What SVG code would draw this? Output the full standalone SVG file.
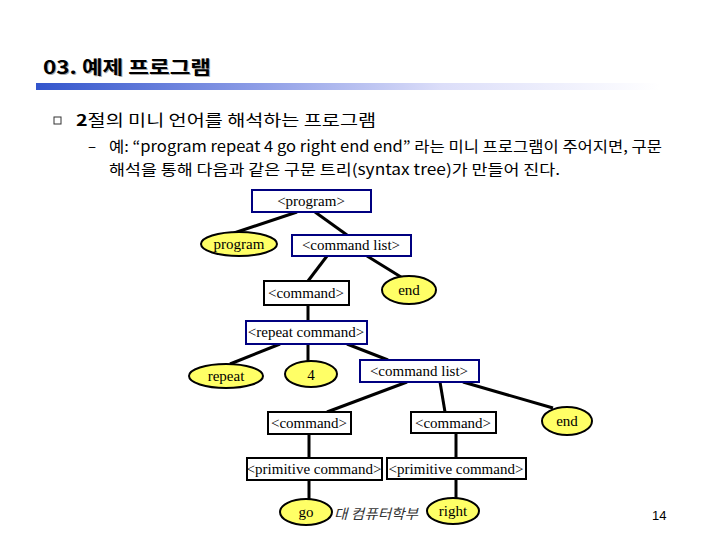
<svg xmlns="http://www.w3.org/2000/svg" width="720" height="540" viewBox="0 0 720 540">
<defs>
<linearGradient id="bar" x1="0" y1="0" x2="1" y2="0">
<stop offset="0" stop-color="#3355cc"/>
<stop offset="0.35" stop-color="#8c9ce6"/>
<stop offset="0.65" stop-color="#dcdef9"/>
<stop offset="1" stop-color="#ffffff"/>
</linearGradient>
<style>
.nt{fill:#fff;stroke:#000080;stroke-width:2}
.nb{fill:#fff;stroke:#000;stroke-width:2}
.tm{fill:#ffff66;stroke:#000;stroke-width:2}
.tx{font-family:"Liberation Serif","Times New Roman",serif;font-size:15px;fill:#000;text-anchor:middle}
.ko{font-family:"Noto Sans CJK KR","DejaVu Sans",sans-serif;fill:#000}
.edge{stroke:#000;stroke-width:3;fill:none}
</style>
</defs>
<rect width="720" height="540" fill="#fff"/>
<g id="header">
<text x="44" y="75" class="ko" font-size="18" font-weight="bold" fill="#999" textLength="168" lengthAdjust="spacingAndGlyphs" style="fill:#aaa">03. 예제 프로그램</text>
<text x="43" y="74" class="ko" font-size="18" font-weight="bold" textLength="168" lengthAdjust="spacingAndGlyphs">03. 예제 프로그램</text>
<rect x="36" y="83" width="624" height="7" fill="url(#bar)"/>
</g>
<g id="body">
<rect x="54" y="117" width="7" height="7" fill="none" stroke="#333" stroke-width="1"/>
<text x="76" y="126" class="ko" font-size="16" textLength="300" lengthAdjust="spacingAndGlyphs"><tspan font-weight="bold">2</tspan>절의 미니 언어를 해석하는 프로그램</text>
<text x="88" y="152" class="ko" font-size="15">–</text>
<text x="109" y="152" class="ko" font-size="15" textLength="553" lengthAdjust="spacingAndGlyphs">예: “program repeat 4 go right end end” 라는 미니 프로그램이 주어지면, 구문</text>
<text x="109" y="175" class="ko" font-size="15" textLength="451" lengthAdjust="spacingAndGlyphs">해석을 통해 다음과 같은 구문 트리(syntax tree)가 만들어 진다.</text>
</g>
<g id="connectors">
<line class="edge" x1="297" y1="212" x2="234" y2="233"/>
<line class="edge" x1="315" y1="212" x2="347" y2="235"/>
<line class="edge" x1="327" y1="256" x2="308" y2="281"/>
<line class="edge" x1="367" y1="256" x2="401" y2="277"/>
<line class="edge" x1="308" y1="305" x2="308" y2="321"/>
<line class="edge" x1="280" y1="344" x2="230" y2="364"/>
<line class="edge" x1="308" y1="344" x2="308" y2="361"/>
<line class="edge" x1="347" y1="344" x2="388" y2="360"/>
<line class="edge" x1="407" y1="382" x2="327" y2="412"/>
<line class="edge" x1="440" y1="382" x2="445" y2="412"/>
<line class="edge" x1="463" y1="382" x2="553" y2="408"/>
<line class="edge" x1="309" y1="434" x2="309" y2="458"/>
<line class="edge" x1="456" y1="433" x2="456" y2="458"/>
<line class="edge" x1="309" y1="480" x2="309" y2="499"/>
<line class="edge" x1="456" y1="479" x2="456" y2="498"/>
</g>
<g id="n-program-nt"><rect class="nt" x="252" y="190" width="119" height="22"/><text class="tx" x="311" y="206">&lt;program&gt;</text></g>
<g id="n-program-t"><ellipse class="tm" cx="239" cy="244" rx="38" ry="12"/><text class="tx" x="239" y="249">program</text></g>
<g id="n-cmdlist1"><rect class="nt" x="292" y="235" width="119" height="21"/><text class="tx" x="351" y="250">&lt;command list&gt;</text></g>
<g id="n-cmd1"><rect class="nb" x="264" y="281" width="85" height="24"/><text class="tx" x="306" y="298">&lt;command&gt;</text></g>
<g id="n-end1"><ellipse class="tm" cx="409" cy="290" rx="27" ry="14"/><text class="tx" x="409" y="295">end</text></g>
<g id="n-repeatcmd"><rect class="nt" x="246" y="321" width="121" height="23"/><text class="tx" x="306" y="337">&lt;repeat command&gt;</text></g>
<g id="n-repeat"><ellipse class="tm" cx="226" cy="376" rx="37" ry="12"/><text class="tx" x="226" y="381">repeat</text></g>
<g id="n-four"><ellipse class="tm" cx="311" cy="374" rx="26" ry="13"/><text class="tx" x="311" y="380">4</text></g>
<g id="n-cmdlist2"><rect class="nt" x="360" y="360" width="119" height="22"/><text class="tx" x="419" y="376">&lt;command list&gt;</text></g>
<g id="n-cmd2"><rect class="nb" x="268" y="412" width="83" height="22"/><text class="tx" x="309" y="428">&lt;command&gt;</text></g>
<g id="n-cmd3"><rect class="nb" x="411" y="412" width="85" height="21"/><text class="tx" x="453" y="428">&lt;command&gt;</text></g>
<g id="n-end2"><ellipse class="tm" cx="567" cy="421" rx="25" ry="14"/><text class="tx" x="567" y="426">end</text></g>
<g id="n-prim1"><rect class="nb" x="247" y="458" width="135" height="22"/><text class="tx" x="314" y="474">&lt;primitive command&gt;</text></g>
<g id="n-prim2"><rect class="nb" x="387" y="458" width="139" height="21"/><text class="tx" x="456" y="474">&lt;primitive command&gt;</text></g>
<g id="n-go"><ellipse class="tm" cx="306" cy="512" rx="26" ry="13"/><text class="tx" x="306" y="517">go</text></g>
<g id="n-right"><ellipse class="tm" cx="453" cy="511" rx="26" ry="13"/><text class="tx" x="453" y="516">right</text></g>
<g id="footer">
<text x="334" y="519" class="ko" font-size="14" font-style="italic" style="fill:#333" textLength="84" lengthAdjust="spacingAndGlyphs">대 컴퓨터학부</text>
<text x="652" y="520" font-family="Liberation Sans, Arial, sans-serif" font-size="13" fill="#000">14</text>
</g>
</svg>
